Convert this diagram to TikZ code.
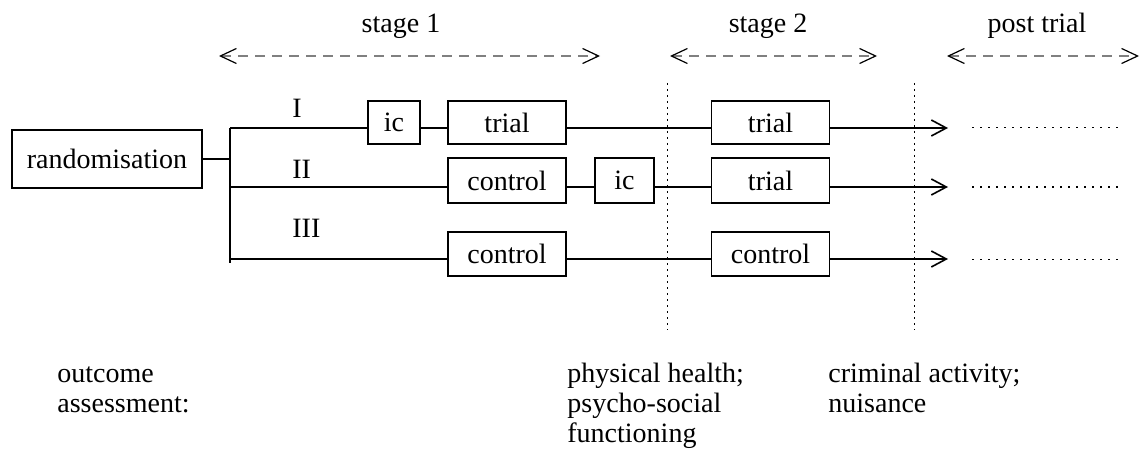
\documentclass[tikz,border=0pt]{standalone}
\usepackage{fontspec}
\setmainfont{Liberation Serif}
\usetikzlibrary{arrows.meta}

\begin{document}
\begin{tikzpicture}[x=0.5pt, y=-0.5pt,
  txt/.style={font=\fontsize{14}{15}\selectfont, inner sep=0pt},
  box/.style={txt, draw, line width=0.8pt, minimum height=21.5pt},
  flow/.style={line width=0.8pt},
  go/.style={flow, -{Straight Barb[length=7.5pt, width=8pt]}},
  span/.style={gray, line width=0.6pt, dash pattern=on 5pt off 3.5pt,
    {Straight Barb[black, length=8pt, width=7.5pt]}-{Straight Barb[black, length=8pt, width=7.5pt]}},
  cut/.style={line width=0.5pt, dash pattern=on 1pt off 2pt},
  tail/.style={line width=0.5pt, dash pattern=on 0.8pt off 3.2pt}]
\useasboundingbox (0,0) rectangle (1143,454);

% periods
\node[txt, anchor=base] (s1) at (401,33) {stage 1};
\node[txt, anchor=base] (s2) at (768,33) {stage 2};
\node[txt, anchor=base] (s3) at (1037,33) {post trial};
\draw[span] (219,56) -- (600,56);
\draw[span] (670,56) -- (877,56);
\draw[span] (947,56) -- (1139,56);
\draw[cut] (667,83) -- (667,330);
\draw[cut] (914,83) -- (914,330);

% boxes
\node[box, minimum width=95pt, minimum height=29pt] (rand) at (107,159) {randomisation};
\node[box, minimum width=26pt] (ica) at (394,122.5) {ic};
\node[box, minimum width=59pt] (triala) at (507,122.5) {trial};
\node[box, minimum width=59pt] (trialb) at (770.5,122.5) {trial};
\node[box, minimum width=59pt, minimum height=22.5pt] (ctrla) at (507,180.5) {control};
\node[box, minimum width=29.5pt, minimum height=22.5pt] (icb) at (624.5,180.5) {ic};
\node[box, minimum width=59pt, minimum height=22.5pt] (trialc) at (770.5,180.5) {trial};
\node[box, minimum width=59pt, minimum height=22pt] (ctrlb) at (507,254) {control};
\node[box, minimum width=59pt, minimum height=22pt] (ctrlc) at (770.5,254) {control};

\node[txt, anchor=base west] (g1) at (292,118) {I};
\node[txt, anchor=base west] (g2) at (292,178) {II};
\node[txt, anchor=base west] (g3) at (292,237) {III};

% branches
\coordinate (r1) at (230,128);
\coordinate (r2) at (230,187);
\coordinate (r3) at (230,259);
\coordinate (rend) at (230,263);
\coordinate (e1) at (948,128);
\coordinate (e2) at (948,187);
\coordinate (e3) at (948,259);
\draw[flow] (rand.east) -- (rand.east -| r1);
\draw[flow] (r1) -- (rend);

\foreach \a/\b/\r in {r1/ica/r1, r2/ctrla/r2, r3/ctrlb/r3}
  \draw[flow] (\a) -- (\b.west |- \r);
\foreach \a/\b/\r in {ica/triala/r1, triala/trialb/r1, ctrla/icb/r2, icb/trialc/r2, ctrlb/ctrlc/r3}
  \draw[flow] (\a.east |- \r) -- (\b.west |- \r);
\foreach \a/\e in {trialb/e1, trialc/e2, ctrlc/e3} {
  \draw[go] (\a.east |- \e) -- (\e);
  \draw[tail] ([xshift=12pt]\e) -- ([xshift=86pt]\e);
}

% assessment (base = last line)
\node[txt, anchor=base west, align=left] (oa) at (57,412) {outcome\\assessment:};
\node[txt, anchor=base west, align=left] (ob) at (567,442) {physical health;\\psycho-social\\functioning};
\node[txt, anchor=base west, align=left] (oc) at (828,412) {criminal activity;\\nuisance};
\end{tikzpicture}
\end{document}
